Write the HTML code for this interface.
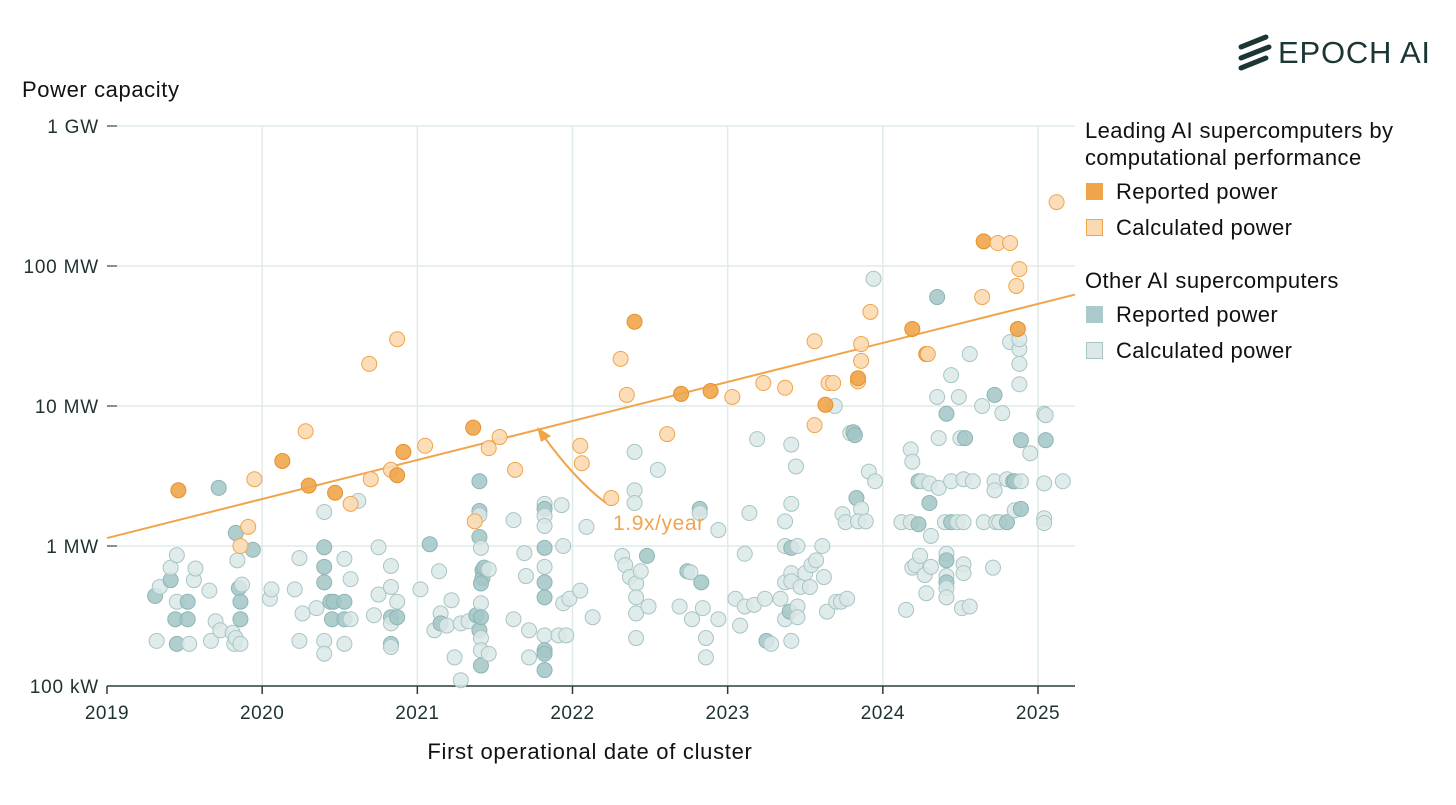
<!DOCTYPE html>
<html><head><meta charset="utf-8">
<style>
html,body{margin:0;padding:0;background:#fff;}
svg{display:block;font-family:"Liberation Sans",sans-serif;}
</style></head>
<body>
<svg id="chart" width="1456" height="805" viewBox="0 0 1456 805">
<g>
  <g stroke="#1c3535" stroke-width="5" stroke-linecap="round">
    <line x1="1241" y1="47" x2="1266" y2="37"/>
    <line x1="1241" y1="58" x2="1269" y2="47"/>
    <line x1="1241" y1="68" x2="1266" y2="58"/>
  </g>
  <text x="1278" y="63" font-size="31" letter-spacing="0.8" fill="#1c3535">EPOCH AI</text>
</g>
<text x="22" y="97" font-size="22" letter-spacing="0.6" fill="#111">Power capacity</text>
<text x="590" y="759" font-size="22" letter-spacing="0.7" fill="#111" text-anchor="middle">First operational date of cluster</text>
<g id="grid"></g>
<g id="axes"></g>
<g id="trend"></g>
<g id="points"></g>
<g>
  <path d="M606 503 Q575 480 542 434" fill="none" stroke="#f0a54a" stroke-width="2"/>
  <path d="M537 427 L551 436 L541 442 Z" fill="#f0a54a"/>
  <text x="613" y="530" font-size="21" letter-spacing="0.6" fill="#f0a54a">1.9x/year</text>
</g>
<g font-size="22" letter-spacing="0.4" fill="#111">
  <text x="1085" y="138">Leading AI supercomputers by</text>
  <text x="1085" y="165">computational performance</text>
  <rect x="1086" y="183" width="17" height="17" fill="#f0a54a"/>
  <text x="1116" y="199">Reported power</text>
  <rect x="1086.5" y="219.5" width="16" height="16" fill="#fbd9b2" stroke="#f0a54a"/>
  <text x="1116" y="235">Calculated power</text>
  <text x="1085" y="288">Other AI supercomputers</text>
  <rect x="1086" y="306" width="17" height="17" fill="#abcacb"/>
  <text x="1116" y="322">Reported power</text>
  <rect x="1086.5" y="342.5" width="16" height="16" fill="#dde9e8" stroke="#a9c5c4"/>
  <text x="1116" y="358">Calculated power</text>
</g>
</svg>
<script>
const xTicks = [2019,2020,2021,2022,2023,2024,2025];
const yTicks = [0.1,1,10,100,1000];
const yTickLabels = ["100 kW","1 MW","10 MW","100 MW","1 GW"];
const trendStartYear = 2019;
const trendStartMW = 1.14;
const trendGrowth = 1.9;
// leading supercomputers
const leadYears = [2019.46,2019.86,2019.91,2019.95,2020.13,2020.28,2020.30,2020.47,2020.57,2020.69,2020.70,2020.83,2020.87,2020.87,2020.91,2021.05,2021.36,2021.37,2021.46,2021.53,2021.63,2022.05,2022.06,2022.25,2022.31,2022.35,2022.40,2022.61,2022.70,2022.89,2023.03,2023.23,2023.37,2023.56,2023.56,2023.63,2023.65,2023.68,2023.84,2023.84,2023.86,2023.86,2023.92,2024.19,2024.28,2024.29,2024.64,2024.65,2024.74,2024.82,2024.88,2024.86,2024.87,2025.12];
const leadMW = [2.5,1.0,1.37,3.0,4.05,6.6,2.7,2.4,2.0,20,3.0,3.5,30,3.2,4.7,5.2,7.0,1.5,5.0,6.0,3.5,5.2,3.9,2.2,21.7,12,40,6.3,12.2,12.8,11.6,14.6,13.5,7.3,29,10.2,14.6,14.6,15,15.8,21,27.7,47,35.5,23.5,23.5,60,150,146,146,95,72,35.5,286];
const leadReported = [1,0,0,0,1,0,1,1,0,0,0,0,0,1,1,0,1,0,0,0,0,0,0,0,0,0,1,0,1,1,0,0,0,0,0,1,0,0,0,1,0,0,0,1,1,0,0,1,0,0,0,0,1,0];
// other supercomputers
const otherYears = [2019.31,2019.32,2019.34,2019.41,2019.41,2019.45,2019.45,2019.44,2019.45,2019.52,2019.52,2019.53,2019.56,2019.57,2019.66,2019.67,2019.70,2019.72,2019.73,2019.81,2019.82,2019.83,2019.83,2019.84,2019.85,2019.86,2019.86,2019.86,2019.87,2019.94,
2020.05,2020.06,2020.21,2020.24,2020.24,2020.26,2020.35,2020.40,2020.40,2020.40,2020.40,2020.40,2020.40,2020.44,2020.45,2020.46,2020.53,2020.53,2020.53,2020.53,2020.57,2020.57,2020.62,2020.72,2020.75,2020.75,2020.83,2020.83,2020.83,2020.83,2020.83,2020.83,2020.87,2020.87,
2021.02,2021.08,2021.11,2021.14,2021.15,2021.15,2021.19,2021.22,2021.24,2021.28,2021.28,2021.33,2021.38,2021.40,2021.40,2021.40,2021.40,2021.40,2021.41,2021.42,2021.42,2021.41,2021.41,2021.41,2021.41,2021.41,2021.41,2021.43,2021.46,2021.46,2021.62,2021.62,2021.69,2021.70,2021.72,2021.72,2021.82,2021.82,2021.82,2021.82,2021.82,2021.82,2021.82,2021.82,2021.82,2021.82,2021.82,2021.82,2021.91,2021.93,2021.94,2021.94,2021.96,2021.98,
2022.05,2022.09,2022.13,2022.32,2022.34,2022.37,2022.40,2022.40,2022.40,2022.41,2022.41,2022.41,2022.41,2022.44,2022.49,2022.48,2022.55,2022.69,2022.74,2022.76,2022.77,2022.82,2022.82,2022.83,2022.84,2022.86,2022.86,2022.94,2022.94,
2023.05,2023.08,2023.11,2023.11,2023.17,2023.19,2023.14,2023.24,2023.25,2023.28,2023.34,2023.37,2023.37,2023.37,2023.37,2023.40,2023.41,2023.41,2023.41,2023.41,2023.41,2023.41,2023.44,2023.45,2023.45,2023.45,2023.47,2023.50,2023.53,2023.54,2023.57,2023.61,2023.62,2023.64,2023.69,2023.70,2023.73,2023.74,2023.76,2023.77,2023.79,2023.81,2023.83,2023.82,2023.86,2023.84,2023.89,2023.91,2023.95,2023.94,
2024.12,2024.15,2024.18,2024.18,2024.19,2024.19,2024.21,2024.23,2024.23,2024.24,2024.25,2024.27,2024.28,2024.30,2024.30,2024.31,2024.31,2024.35,2024.35,2024.36,2024.36,2024.40,2024.41,2024.41,2024.41,2024.41,2024.41,2024.41,2024.41,2024.44,2024.44,2024.44,2024.48,2024.49,2024.50,2024.52,2024.53,2024.52,2024.52,2024.51,2024.52,2024.56,2024.56,2024.58,2024.64,2024.65,2024.72,2024.72,2024.72,2024.73,2024.71,2024.75,2024.77,2024.80,2024.80,2024.82,2024.84,2024.85,2024.85,2024.88,2024.88,2024.88,2024.88,2024.89,2024.89,2024.89,2024.95,2025.04,2025.05,2025.04,2025.04,2025.04,2025.05,2025.16];
const otherMW = [0.44,0.21,0.51,0.57,0.70,0.86,0.40,0.30,0.20,0.30,0.40,0.20,0.57,0.69,0.48,0.21,0.29,2.6,0.25,0.24,0.20,0.22,1.24,0.79,0.5,0.40,0.30,0.20,0.53,0.94,
0.42,0.49,0.49,0.82,0.21,0.33,0.36,1.75,0.98,0.71,0.55,0.21,0.17,0.40,0.30,0.40,0.81,0.40,0.30,0.20,0.58,0.30,2.1,0.32,0.45,0.98,0.72,0.51,0.31,0.28,0.20,0.19,0.40,0.31,
0.49,1.03,0.25,0.66,0.33,0.28,0.27,0.41,0.16,0.28,0.11,0.29,0.32,0.25,2.9,1.78,1.66,1.16,0.97,0.67,0.59,0.54,0.39,0.31,0.22,0.18,0.14,0.70,0.68,0.17,1.53,0.30,0.89,0.61,0.25,0.16,2.0,1.84,1.64,1.39,0.97,0.71,0.55,0.43,0.23,0.18,0.13,0.17,0.23,1.96,0.39,1.0,0.23,0.42,
0.48,1.37,0.31,0.85,0.73,0.6,4.7,2.5,2.03,0.54,0.43,0.33,0.22,0.66,0.37,0.85,3.5,0.37,0.66,0.65,0.30,1.84,1.72,0.55,0.36,0.22,0.16,1.30,0.30,
0.42,0.27,0.88,0.37,0.38,5.8,1.72,0.42,0.21,0.20,0.42,1.5,1.0,0.55,0.30,0.34,5.3,2.0,0.97,0.64,0.56,0.21,3.7,1.0,0.37,0.31,0.51,0.64,0.51,0.73,0.79,1.0,0.6,0.34,10,0.40,0.40,1.69,1.48,0.42,6.4,6.5,2.2,6.2,1.84,1.5,1.5,3.4,2.9,81,
1.48,0.35,1.48,4.9,4.0,0.70,0.73,2.9,1.43,0.85,2.9,0.62,0.46,2.03,2.8,1.18,0.71,60,11.6,5.9,2.6,1.48,8.8,0.88,0.79,0.61,0.55,0.5,0.43,16.6,2.9,1.48,1.48,11.6,5.9,3.0,5.9,0.74,0.64,0.36,1.48,23.5,0.37,2.9,10,1.48,12,2.9,2.5,1.48,0.70,1.48,8.9,3.0,1.48,28.6,2.9,2.9,1.8,25.5,20,14.3,30,5.7,2.9,1.84,4.6,8.8,5.7,2.8,1.58,1.46,8.6,2.9];
const otherReported = [1,0,0,1,0,0,0,1,1,1,1,0,0,0,0,0,0,1,0,0,0,0,1,0,1,1,1,0,0,1,
0,0,0,0,0,0,0,0,1,1,1,0,0,1,1,1,0,1,1,0,0,0,0,0,0,0,0,0,1,0,1,0,0,1,
0,1,0,0,0,1,0,0,0,0,0,0,1,1,1,1,0,1,0,1,1,1,0,1,0,0,1,1,0,0,0,0,0,0,0,0,0,1,0,0,1,0,1,1,0,1,1,1,0,0,0,0,0,0,
0,0,0,0,0,0,0,0,0,0,0,0,0,0,0,1,0,0,1,0,0,1,0,1,0,0,0,0,0,
0,0,0,0,0,0,0,0,1,0,0,0,0,0,0,1,0,0,1,0,0,0,0,0,0,0,0,0,0,0,0,0,0,0,0,0,0,0,0,0,0,1,1,1,0,0,0,0,0,0,
0,0,0,0,0,0,0,1,1,0,0,0,0,1,0,0,0,1,0,0,0,0,1,0,1,0,1,0,0,0,0,1,0,0,0,0,1,0,0,0,0,0,0,0,0,0,1,0,0,0,0,0,0,0,1,0,1,1,0,0,0,0,0,1,0,1,0,0,1,0,0,0,0,0];

const NS = "http://www.w3.org/2000/svg";
const X0 = 107, X1 = 1038, Y0 = 686, Y1 = 126, XEND = 1075;
function xs(yr){ return X0 + (yr - 2019) * (X1 - X0) / 6; }
function ys(mw){ return Y0 - (Math.log10(mw) + 1) * (Y0 - Y1) / 4; }
function mk(tag, attrs, parent){ const e = document.createElementNS(NS, tag); for (const k in attrs) e.setAttribute(k, attrs[k]); parent.appendChild(e); return e; }

const grid = document.getElementById('grid');
const axes = document.getElementById('axes');
xTicks.forEach(t => {
  const x = xs(t);
  if (t > 2019) {
    const gl = mk('line', {x1:x, x2:x, y1:Y1, y2:Y0, stroke:'#dfeaea', 'stroke-width':1.5}, grid);
    
    
  }
  const tk = mk('line', {x1:x, x2:x, y1:Y0, y2:Y0+8, stroke:'#2a3d3d', 'stroke-width':1.5}, axes);
  
  
  const lb = mk('text', {x:x, y:Y0+33, 'font-size':19, 'letter-spacing':0.5, fill:'#1f3232', 'text-anchor':'middle'}, axes);
  lb.textContent = t;
  
  
});
yTicks.forEach((v, i) => {
  const y = ys(v);
  if (i > 0) {
    const gl = mk('line', {x1:117, x2:XEND, y1:y, y2:y, stroke:'#dfeaea', 'stroke-width':1.5}, grid);
    
    
    const tk = mk('line', {x1:107, x2:117, y1:y, y2:y, stroke:'#5a6c6c', 'stroke-width':1.5}, axes);
    
    
  }
  const lb = mk('text', {x:99, y:y+7, 'font-size':19, 'letter-spacing':0.8, fill:'#1f3232', 'text-anchor':'end'}, axes);
  lb.textContent = yTickLabels[i];
  
  
});
const ax = mk('line', {x1:X0, x2:XEND, y1:Y0, y2:Y0, stroke:'#2a3d3d', 'stroke-width':1.5}, axes);



const pts = document.getElementById('points');
otherYears.forEach((yr, i) => {
  const rep = otherReported[i] === 1;
  const c = mk('circle', {cx:xs(yr), cy:ys(otherMW[i]), r:7.5, fill: rep ? '#a3c6c6' : '#dbe8e7', stroke: rep ? '#8db5b5' : '#a9c5c4', 'stroke-width':1, 'fill-opacity':0.85}, pts);
  
  
});
const trend = document.getElementById('trend');
const tl = mk('line', {x1:X0, y1:ys(trendStartMW), x2:XEND, y2:ys(trendStartMW * Math.pow(trendGrowth, (XEND - X0) / ((X1 - X0) / 6))), stroke:'#f0a54a', 'stroke-width':2}, trend);


leadYears.forEach((yr, i) => {
  const rep = leadReported[i] === 1;
  const c = mk('circle', {cx:xs(yr), cy:ys(leadMW[i]), r:7.5, fill: rep ? '#f0a54a' : '#fbd9b2', stroke: rep ? '#e6912b' : '#f0a54a', 'stroke-width':1, 'fill-opacity':0.9}, pts);
  
  
});
</script>
</body></html>
